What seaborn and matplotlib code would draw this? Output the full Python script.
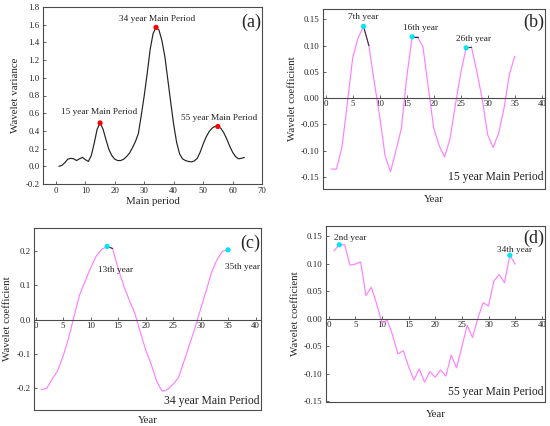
import numpy as np
import pandas as pd
import matplotlib
matplotlib.use("Agg")
import matplotlib.pyplot as plt
import seaborn as sns

# ---------------- data ----------------
period = list(range(1, 65))
variance = [0.00, 0.01, 0.04, 0.08, 0.09, 0.085, 0.065, 0.085, 0.10, 0.075,
            0.055, 0.12, 0.26, 0.42, 0.49, 0.42, 0.30, 0.19, 0.12, 0.08,
            0.065, 0.065, 0.08, 0.11, 0.15, 0.21, 0.28, 0.37, 0.58, 0.80,
            1.05, 1.32, 1.50, 1.57, 1.54, 1.42, 1.24, 0.98, 0.72, 0.47,
            0.27, 0.14, 0.085, 0.065, 0.055, 0.05, 0.06, 0.09, 0.16, 0.25,
            0.33, 0.39, 0.43, 0.45, 0.45, 0.43, 0.38, 0.31, 0.23, 0.16,
            0.11, 0.085, 0.09, 0.10]
peak_periods = [15, 34, 55]
peak_variance = [0.49, 1.57, 0.45]
peak_labels = ["15 year Main Period", "34 year Main Period", "55 year Main Period"]
peak_label_x = [14.7, 34.4, 55.3]
peak_label_y = [0.613, 1.665, 0.541]

years = list(range(1, 36))
coef15 = [-0.135, -0.135, -0.094, -0.01, 0.077, 0.115, 0.137, 0.10, 0.03, -0.035,
          -0.11, -0.14, -0.10, -0.058, 0.04, 0.117, 0.117, 0.098, 0.02, -0.057,
          -0.09, -0.112, -0.078, -0.013, 0.048, 0.096, 0.097, 0.05, -0.003, -0.07,
          -0.094, -0.067, -0.02, 0.045, 0.08]
coef34 = [-0.205, -0.202, -0.175, -0.15, -0.107, -0.054, 0.01, 0.073, 0.112, 0.151,
          0.185, 0.205, 0.214, 0.208, 0.15, 0.10, 0.058, 0.02, -0.034, -0.088,
          -0.13, -0.18, -0.21, -0.205, -0.19, -0.17, -0.122, -0.073, -0.024, 0.03,
          0.083, 0.137, 0.176, 0.20, 0.204]
coef55 = [0.123, 0.134, 0.134, 0.097, 0.099, 0.103, 0.042, 0.057, 0.027, -0.008,
          -0.003, -0.030, -0.064, -0.058, -0.087, -0.111, -0.091, -0.115, -0.096, -0.106,
          -0.093, -0.104, -0.066, -0.089, -0.051, -0.012, -0.034, 0.001, 0.029, 0.023,
          0.068, 0.080, 0.065, 0.115, 0.099]

b_peaks = [7, 16, 26]
b_labels = ["7th year", "16th year", "26th year"]
b_label_x = [7.0, 17.5, 27.3]
b_label_y = [0.154, 0.133, 0.113]

c_peaks = [13, 35]
c_labels = ["13th year", "35th year"]
c_label_x = [14.5, 37.6]
c_label_y = [0.144, 0.154]

d_peaks = [2, 34]
d_labels = ["2nd year", "34th year"]
d_label_x = [4.0, 34.8]
d_label_y = [0.146, 0.1245]

# ---------------- style ----------------
sns.set_theme(style="ticks")
plt.rcParams["font.family"] = ["Liberation Serif", "DejaVu Serif"]
plt.rcParams["axes.unicode_minus"] = True

FRAME = "#4a4a4a"
LINE = "#ff80ff"
CYAN = "#00e5ee"
TICK_FS = 6.3
LAB_FS = 7.8

fig = plt.figure(figsize=(5.5, 4.26), dpi=100)
axA = fig.add_axes([43/550, 1-184/426, 219/550, 177/426])
axB = fig.add_axes([323/550, 1-189/426, 222/550, 180/426])
axC = fig.add_axes([34/550, 1-410/426, 227/550, 182/426])
axD = fig.add_axes([326/550, 1-402/426, 219/550, 176/426])


def style(ax):
    for s in ax.spines.values():
        s.set_color(FRAME)
        s.set_linewidth(0.8)
    ax.tick_params(direction="in", length=2.5, width=0.6, color=FRAME,
                   labelsize=TICK_FS, pad=2.5, labelcolor="#222222")


# ---------------- panel (a) ----------------
dfa = pd.DataFrame({"period": period, "variance": variance})
sns.lineplot(data=dfa, x="period", y="variance", ax=axA, color="#222222", lw=0.85)
sns.scatterplot(x=peak_periods, y=peak_variance, ax=axA, color="#ff0000",
                s=14, edgecolor="none", zorder=5)
for t, x, y in zip(peak_labels, peak_label_x, peak_label_y):
    axA.text(x, y, t, ha="center", va="center", fontsize=6.7, color="#222222")
axA.set_xlim(-4.4, 70)
axA.set_ylim(-0.2, 1.8)
axA.set_xticks(np.arange(0, 71, 10))
axA.set_yticks(np.arange(-0.2, 1.81, 0.2))
axA.yaxis.set_major_formatter(matplotlib.ticker.FormatStrFormatter("%.1f"))
axA.set_xlabel("Main period", fontsize=LAB_FS, labelpad=1)
axA.set_ylabel("Wavelet variance", fontsize=LAB_FS, labelpad=4)
style(axA)
axA.text(0.995, 0.915, "(a)", transform=axA.transAxes, ha="right", va="center", fontsize=13)


def coef_panel(ax, vals, peaks, labels, lx, ly, ylim, yticks, fmt, label_txt,
               label_y, letter, letter_y, xlab_y, black_segs):
    df = pd.DataFrame({"year": years, "coef": vals})
    sns.lineplot(data=df, x="year", y="coef", ax=ax, color=LINE, lw=0.85)
    for p in black_segs:
        seg = df[(df["year"] >= p) & (df["year"] <= p + 1)]
        sns.lineplot(data=seg, x="year", y="coef", ax=ax, color="#333333", lw=0.8)
    py = [vals[years.index(p)] for p in peaks]
    sns.scatterplot(x=peaks, y=py, ax=ax, color=CYAN, s=14, edgecolor="none", zorder=5)
    for t, x, y in zip(labels, lx, ly):
        ax.text(x, y, t, ha="center", va="center", fontsize=6.7, color="#222222")
    ax.set_xlim(-0.5, 40.6)
    ax.set_ylim(*ylim)
    ax.set_xticks(np.arange(0, 41, 5))
    ax.set_yticks(yticks)
    ax.yaxis.set_major_formatter(matplotlib.ticker.FormatStrFormatter(fmt))
    ax.spines["bottom"].set_position(("data", 0))
    ax.plot([0, 1], [0, 0], transform=ax.transAxes, color=FRAME, lw=0.8, clip_on=False)
    style(ax)
    ax.tick_params(axis="x", pad=1.5)
    ax.set_xlabel("Year", fontsize=LAB_FS)
    ax.xaxis.set_label_coords(0.5, xlab_y)
    ax.set_ylabel("Wavelet coefficient", fontsize=LAB_FS, labelpad=3)
    ax.text(0.992, label_y, label_txt, transform=ax.transAxes, ha="right",
            va="center", fontsize=8.4, color="#222222")
    ax.text(0.995, letter_y, letter, transform=ax.transAxes, ha="right",
            va="center", fontsize=13)


coef_panel(axB, coef15, b_peaks, b_labels, b_label_x, b_label_y,
           (-0.173, 0.17), [-0.15, -0.10, -0.05, 0.0, 0.05, 0.10, 0.15], "%.2f",
           "15 year Main Period", 0.067, "(b)", 0.928, -0.035, [7, 16, 26])
coef_panel(axC, coef34, c_peaks, c_labels, c_label_x, c_label_y,
           (-0.265, 0.268), [-0.2, -0.1, 0.0, 0.1, 0.2], "%.1f",
           "34 year Main Period", 0.05, "(c)", 0.918, -0.035, [13])
axC.set_xlim(-0.3, 41)
coef_panel(axD, coef55, d_peaks, d_labels, d_label_x, d_label_y,
           (-0.151, 0.168), [-0.15, -0.10, -0.05, 0.0, 0.05, 0.10, 0.15], "%.2f",
           "55 year Main Period", 0.057, "(d)", 0.932, -0.045, [])

fig.savefig("out.png", dpi=100, facecolor="white")
